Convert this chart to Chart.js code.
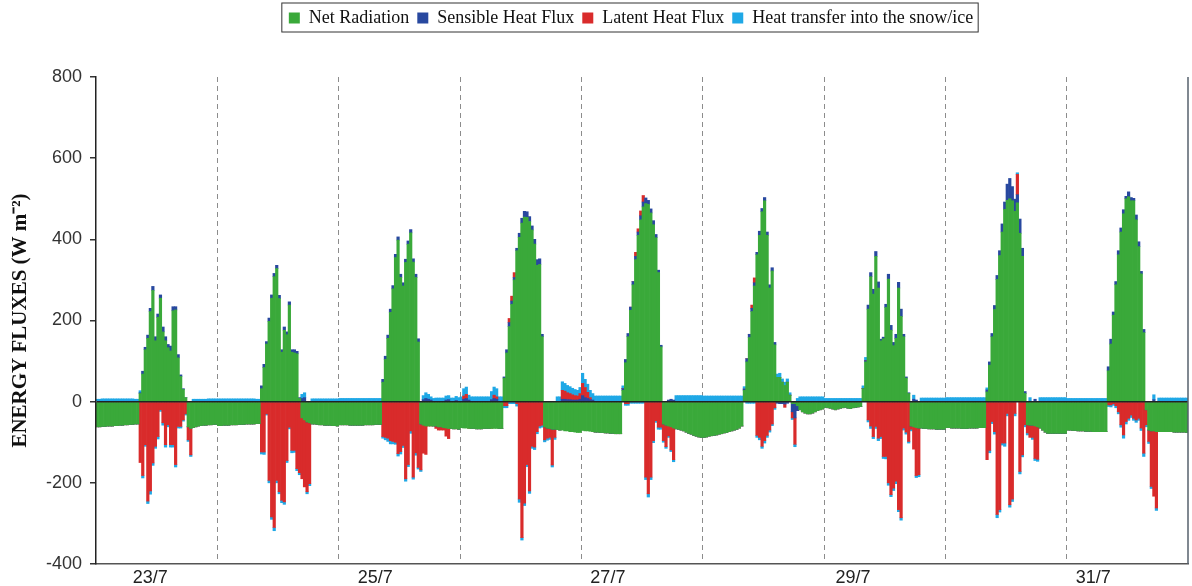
<!DOCTYPE html>
<html>
<head>
<meta charset="utf-8">
<script src="https://cdn.jsdelivr.net/npm/chart.js@4/dist/chart.umd.min.js"></script>
<style>
  html, body { margin: 0; padding: 0; background: #fff; }
  #wrap { width: 1192px; height: 586px; position: relative; }
</style>
</head>
<body>
<div id="wrap"><canvas id="chart"></canvas></div>
<script>
// half-hourly energy balance, 23/7 - 31/7 (48 values per day, one line per day)
const days = ['23/7', '24/7', '25/7', '26/7', '27/7', '28/7', '29/7', '30/7', '31/7'];
const shownDays = ['23/7', '25/7', '27/7', '29/7', '31/7'];

const netRadiation = [
  -62,-62,-61,-61,-60,-60,-60,-59,-59,-58,-58,-57,-57,-56,-56,-55,-55,20,68,128,156,222,274,150,208,255,172,150,133,125,224,226,108,62,30,10,-62,-66,-64,-62,-60,-59,-58,-58,-57,-57,-56,-56,
  -59,-59,-58,-58,-58,-57,-57,-57,-56,-56,-56,-55,-55,-55,-55,-54,-54,32,84,142,198,255,308,328,254,122,176,165,238,122,120,118,8,-40,-45,-50,-52,-55,-55,-56,-57,-57,-58,-58,-58,-59,-59,-60,
  -57,-57,-57,-57,-58,-58,-58,-58,-58,-58,-57,-57,-57,-57,-56,-56,-56,48,104,156,220,278,355,398,306,285,343,388,416,344,306,147,-55,-58,-60,-60,-60,-60,-60,-62,-62,-64,-65,-66,-66,-67,-67,-68,
  -64,-65,-65,-66,-66,-66,-67,-67,-67,-66,-66,-66,-66,-66,-66,-66,-66,58,120,185,240,300,372,405,440,455,454,444,423,388,336,338,160,-62,-65,-66,-68,-68,-69,-70,-70,-72,-72,-74,-74,-75,-76,-76,
  -71,-72,-72,-73,-74,-75,-75,-76,-76,-77,-77,-78,-78,-79,-79,-79,28,96,160,225,288,350,410,448,480,488,486,465,436,404,318,135,-55,-58,-60,-62,-65,-67,-68,-70,-72,-75,-78,-80,-83,-85,-87,-88,
  -88,-87,-85,-84,-83,-82,-80,-79,-77,-76,-74,-72,-70,-68,-65,-60,28,98,158,222,285,362,410,468,495,410,280,322,140,60,60,48,40,48,16,-5,-5,-10,-20,-25,-28,-30,-30,-28,-25,-22,-20,-18,
  -14,-15,-16,-18,-20,-18,-16,-15,-14,-16,-17,-15,-14,-13,-12,32,98,228,308,265,358,280,150,155,232,302,176,138,156,280,210,160,58,20,-60,-62,-64,-65,-65,-66,-66,-67,-67,-67,-68,-68,-68,-68,
  -64,-64,-65,-65,-65,-65,-66,-66,-66,-65,-65,-65,-65,-64,-64,-64,24,90,160,227,301,360,418,474,496,500,495,469,490,415,358,20,-57,-58,-58,-60,-62,-65,-70,-75,-78,-78,-78,-78,-78,-78,-78,-78,
  -70,-70,-71,-71,-72,-72,-72,-73,-73,-73,-74,-74,-74,-74,-74,-74,76,142,213,288,362,418,463,500,505,495,495,448,382,315,170,-20,-70,-72,-72,-74,-74,-74,-74,-74,-74,-74,-75,-75,-75,-75,-75,-76
];

const sensibleHeat = [
  0,0,0,0,0,0,0,0,0,0,0,0,0,0,0,0,0,2,7,6,8,8,10,10,8,8,12,10,8,12,10,8,8,4,2,0,0,0,0,0,0,0,0,0,0,0,0,0,
  0,0,0,0,0,0,0,0,0,0,0,0,0,0,0,0,0,7,8,6,8,8,8,8,8,6,8,7,8,6,8,6,2,8,10,0,0,0,0,0,0,0,0,0,0,0,0,0,
  0,0,0,0,0,0,0,0,0,0,0,0,0,0,0,0,0,7,8,8,8,8,8,8,8,8,8,8,8,8,8,8,0,5,8,6,4,0,0,0,0,0,4,5,0,0,3,0,
  0,6,8,4,0,0,0,0,0,0,0,0,5,8,6,0,0,3,8,10,8,6,6,10,12,14,14,12,10,12,14,14,6,0,0,0,0,0,0,0,6,6,5,5,4,4,4,6,
  15,10,8,5,4,0,0,0,0,0,0,0,0,0,0,0,4,8,8,8,8,8,8,10,12,14,10,10,10,8,6,4,0,0,4,6,4,0,0,0,0,0,0,0,0,0,0,0,
  0,0,0,0,0,0,0,0,0,0,0,0,0,0,0,0,3,8,8,8,8,6,10,8,8,8,8,8,6,-4,-5,-5,-6,-4,0,-20,-35,-12,0,0,0,0,0,0,0,0,0,0,
  0,0,0,0,0,0,0,0,0,0,0,0,0,0,0,0,3,10,10,12,12,15,4,4,8,12,12,8,10,14,18,6,3,2,0,6,4,0,0,0,0,0,0,0,0,0,0,0,
  0,0,0,0,0,0,0,0,0,0,0,0,0,0,0,0,5,8,8,10,10,12,20,18,40,50,35,30,20,35,20,5,0,0,0,6,0,0,0,0,0,0,0,0,0,0,0,0,
  0,0,0,0,0,0,0,0,0,0,0,0,0,0,0,0,10,12,8,8,10,10,10,6,12,8,6,12,12,6,8,0,0,0,5,0,0,0,0,0,0,0,0,0,0,0,0,0
];

const latentHeat = [
  0,0,0,0,0,0,0,0,0,0,0,0,0,0,0,0,0,-150,-182,-106,-245,-220,-151,-110,-86,-20,-52,-106,-57,-106,-106,-155,-61,-61,-45,-30,-32,-65,0,0,0,0,0,0,0,0,0,0,
  0,0,0,0,0,0,0,0,0,0,0,0,0,0,0,0,0,-124,-124,-30,-194,-284,-310,-194,-222,-243,-247,-145,-63,-120,-120,-165,-175,-150,-165,-172,-150,0,0,0,0,0,0,0,0,0,0,0,
  0,0,0,0,0,0,0,0,0,0,0,0,0,0,0,0,0,-86,-88,-90,-96,-98,-100,-128,-123,-108,-190,-155,-72,-186,-126,-162,-113,-69,-70,0,0,0,-6,-8,-8,-6,-20,-25,0,0,0,0,
  0,8,10,0,0,0,0,0,0,0,0,0,0,8,6,0,0,-10,-10,10,12,12,-5,-240,-335,-250,-155,-220,-110,-112,-74,-60,-58,-32,-25,-22,-88,-20,0,0,22,20,17,15,13,11,10,14,
  30,25,15,5,0,0,0,0,0,0,0,0,0,0,0,0,0,-5,-5,0,0,10,8,12,16,-186,-227,-186,-96,-47,-63,-63,-41,-53,-24,-57,-78,0,0,0,0,0,0,0,0,0,0,0,
  0,0,0,0,0,0,0,0,0,0,0,0,0,0,0,0,0,0,0,8,12,-83,-88,-110,-96,-83,-70,-55,-15,0,0,0,-8,0,0,-15,-65,0,0,0,0,0,0,0,0,0,0,0,
  0,0,0,0,0,0,0,0,0,0,0,0,0,0,0,0,0,-45,-60,-86,-61,-90,-86,-135,-135,-200,-229,-213,-196,-266,-286,-65,-75,-98,-8,-55,-118,-115,0,0,0,0,0,0,0,0,0,0,
  0,0,0,0,0,0,0,0,0,0,0,0,0,0,0,0,-143,-120,-49,-74,-278,-266,-102,-102,-29,-254,-240,-29,50,-172,-131,-57,-20,-30,-30,-80,-80,0,0,0,0,0,0,0,0,0,0,0,
  0,0,0,0,0,0,0,0,0,0,0,0,0,0,0,0,-8,-8,-5,-10,-25,-57,-82,-49,-41,-33,-41,-45,-41,-65,-127,-37,-28,-137,-161,-188,0,0,0,0,0,0,0,0,0,0,0,0
];

const heatTransfer = [
  6,6,7,7,7,7,7,7,7,7,7,7,7,7,7,6,6,5,-6,-4,-6,-8,-6,-5,-6,-4,-6,-6,-5,-6,-6,-6,-4,-4,-3,-3,-4,-4,6,6,6,6,6,6,7,7,7,7,
  7,7,7,7,7,7,7,7,7,7,7,7,7,7,7,6,6,-5,-6,-3,-6,-6,-8,-6,-5,-6,-6,-5,-4,-6,-5,-5,-5,10,12,-5,-5,7,7,7,7,7,7,7,7,7,7,7,
  8,8,8,8,8,8,8,8,8,8,8,8,8,8,8,8,8,-4,-6,-8,-8,-6,-5,-6,-6,-5,-6,-5,-6,-5,-6,-4,-4,10,14,12,8,8,9,9,9,9,10,10,9,9,10,10,
  12,18,18,12,12,12,12,12,12,12,12,12,20,20,20,12,12,-5,-5,-5,-5,-5,-6,-8,-6,-6,-5,-6,-5,-6,-5,-5,-5,-5,-5,-5,-5,-5,12,12,21,19,18,17,16,15,14,15,
  25,20,20,18,16,14,14,14,14,14,14,14,14,14,14,14,7,-4,-4,-4,-4,-4,-4,-4,-4,-6,-8,-6,-5,-4,-5,-5,-4,-4,-4,-4,-5,15,15,15,15,15,15,15,15,15,15,15,
  14,14,14,14,14,14,14,14,14,14,14,14,14,14,14,14,6,-4,-4,-4,-4,-5,-6,-5,-6,-5,-5,-4,-4,8,10,8,8,8,6,-4,-6,8,12,12,12,12,12,12,12,12,12,12,
  8,8,8,8,8,8,8,8,8,8,8,8,8,8,8,7,8,-5,-6,-5,-5,-6,-5,-5,-6,-6,-5,-6,-6,-5,-6,-5,-5,-4,-4,10,-5,-5,9,9,9,9,9,9,9,9,9,9,
  10,10,10,10,10,10,10,10,10,10,10,10,10,10,10,10,5,-6,-5,-6,-8,-6,-5,-8,-6,-6,-6,-6,4,-6,-5,-5,-5,10,-5,-5,-5,10,10,10,10,10,10,10,10,10,10,10,
  8,8,8,8,8,8,8,8,8,8,8,8,8,8,8,8,-4,-5,-4,-5,-5,-6,-8,-6,-5,-6,-5,-6,-5,-6,-8,-5,-5,-5,12,-6,9,9,9,9,9,9,9,9,9,9,9,9
];

// category labels: one per half hour
const categories = [];
days.forEach(d => {
  for (let s = 0; s < 48; s++) {
    const hh = String(Math.floor(s / 2)).padStart(2, '0');
    categories.push(d + ' ' + hh + (s % 2 ? ':30' : ':00'));
  }
});

// half-hour slot under which each shown day label sits
const labelSlot = [21, 0, 14, 0, 10, 0, 11, 0, 10];

const framePlugin = {
  id: 'frame',
  afterInit(chart) {
    const lg = chart.legend;
    const fit = lg.fit.bind(lg);
    lg.fit = function () { fit(); this.height = 76; };
  },
  afterLayout(chart) {
    // the legend sits a little left of the plot centre
    chart.legend.left -= 11;
    chart.legend.right -= 11;
  },
  afterDraw(chart) {
    const { ctx, chartArea: a, legend } = chart;
    ctx.save();
    ctx.strokeStyle = '#56616c';
    ctx.lineWidth = 1.5;
    ctx.beginPath();
    ctx.moveTo(a.right, a.top);
    ctx.lineTo(a.right, a.bottom);
    ctx.stroke();
    const hb = legend.legendHitBoxes;
    if (hb && hb.length) {
      const l = Math.min(...hb.map(b => b.left)) - 7;
      const r = Math.max(...hb.map(b => b.left + b.width)) + 5;
      const t = hb[0].top - 6;
      const b = hb[0].top + hb[0].height + 5;
      ctx.strokeStyle = '#333';
      ctx.lineWidth = 1;
      ctx.strokeRect(l, t, r - l, b - t);
    }
    ctx.restore();
  }
};

const series = (label, data, color) => ({
  label: label,
  data: data,
  backgroundColor: color,
  borderWidth: 0,
  barPercentage: 1,
  categoryPercentage: 1
});

new Chart(document.getElementById('chart'), {
  type: 'bar',
  data: {
    labels: categories,
    datasets: [
      series('Net Radiation', netRadiation, '#3aa93a'),
      series('Sensible Heat Flux', sensibleHeat, '#28489f'),
      series('Latent Heat Flux', latentHeat, '#d92b2b'),
      series('Heat transfer into the snow/ice', heatTransfer, '#1fa8e6')
    ]
  },
  options: {
    responsive: true,
    maintainAspectRatio: false,
    animation: false,
    layout: { padding: { top: 1, right: 4, left: 0, bottom: 0 } },
    plugins: {
      tooltip: { enabled: false },
      legend: {
        position: 'top',
        fullSize: false,
        labels: {
          boxWidth: 11, boxHeight: 11, padding: 8, color: '#111',
          font: { family: 'Liberation Serif', size: 18 }
        }
      }
    },
    scales: {
      x: {
        stacked: true,
        ticks: {
          autoSkip: false, maxRotation: 0, minRotation: 0, padding: 3,
          color: '#222', font: { family: 'Liberation Sans', size: 18 },
          callback: (v, i) => {
            const d = Math.floor(i / 48);
            return shownDays.includes(days[d]) && i % 48 === labelSlot[d] ? days[d] : '';
          }
        },
        grid: {
          offset: true, drawTicks: false, lineWidth: 1,
          color: c => (c.index > 0 && c.index % 48 === 0) ? '#8c8c8c' : 'transparent'
        },
        border: { color: '#555', width: 1.5, dash: [5, 4] },
        afterFit: s => { s.height = 22; }
      },
      y: {
        stacked: true,
        min: -400,
        max: 800,
        ticks: {
          stepSize: 200, padding: 8, color: '#333',
          font: { family: 'Liberation Sans', size: 18 }
        },
        grid: {
          z: 1, lineWidth: 1.5, tickColor: '#333', tickLength: 6,
          color: c => (c.tick && c.tick.value === 0) ? '#222' : 'transparent'
        },
        border: { color: '#222', width: 1.5, z: 1 },
        title: {
          display: true,
          text: 'ENERGY FLUXES (W m⁻²)',
          color: '#111',
          font: { family: 'Liberation Serif', size: 21, weight: 'bold' },
          padding: { top: 8, bottom: 0 }
        },
        afterFit: s => { s.width = 96; }
      }
    }
  },
  plugins: [framePlugin]
});
</script>
</body>
</html>
